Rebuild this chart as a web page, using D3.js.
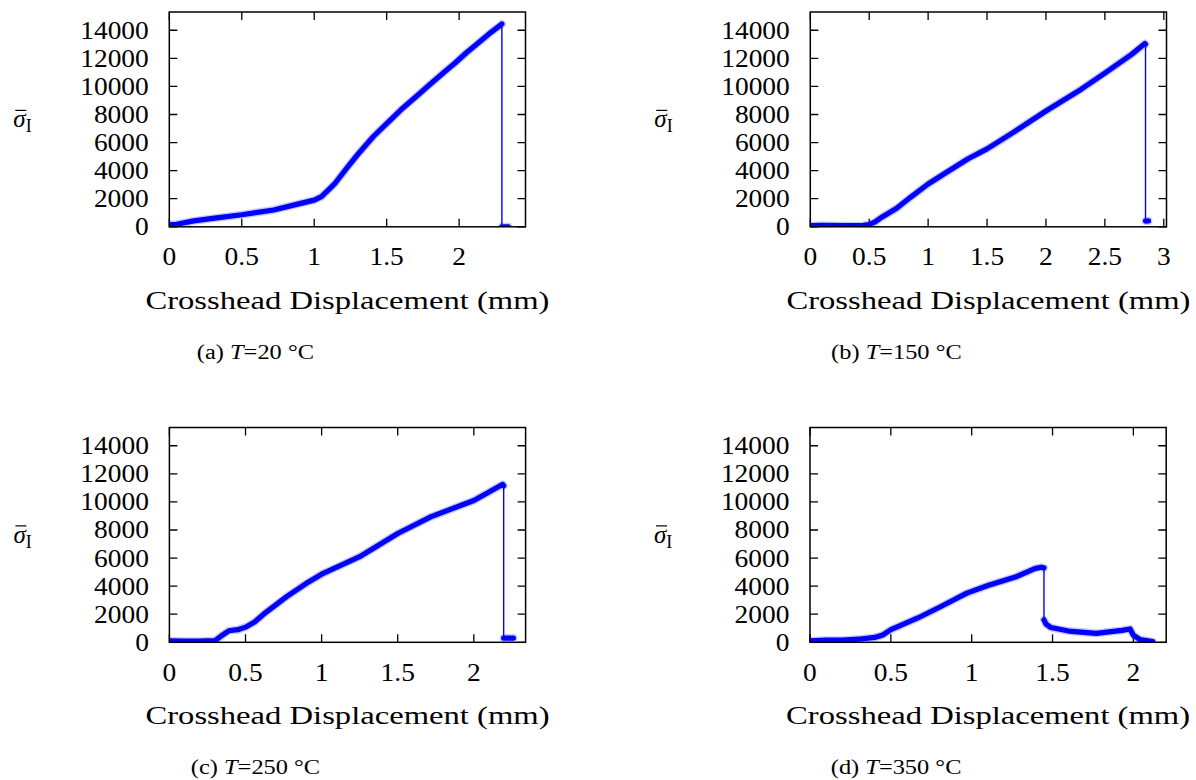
<!DOCTYPE html>
<html>
<head>
<meta charset="utf-8">
<script src="https://cdn.jsdelivr.net/npm/d3@7"></script>
<style>
  html, body { margin: 0; padding: 0; background: #fff; }
  svg { display: block; }
  text { font-family: "Liberation Serif", "DejaVu Serif", serif; fill: #000; }
</style>
</head>
<body>
<svg id="chart" width="1196" height="780"></svg>
<script>
// ---------------- data ----------------
const yTicks = [0, 2000, 4000, 6000, 8000, 10000, 12000, 14000];
const xTicksA = [0, 0.5, 1, 1.5, 2];
const xTicksB = [0, 0.5, 1, 1.5, 2, 2.5, 3];
const xTicksC = [0, 0.5, 1, 1.5, 2];
const xTicksD = [0, 0.5, 1, 1.5, 2];
const captionLetters = ["(a)", "(b)", "(c)", "(d)"];
const temperatures = ["20", "150", "250", "350"];
const xLabel = "Crosshead Displacement (mm)";

// T = 20 °C
const seriesA = [[0,150],[0.05,180],[0.17,420],[0.3,600],[0.5,860],[0.72,1200],[0.9,1650],[1.0,1900],[1.05,2150],
  [1.1,2650],[1.14,3050],[1.23,4250],[1.3,5150],[1.41,6450],[1.5,7350],[1.6,8350],[1.7,9250],[1.8,10150],
  [1.9,11050],[1.97,11650],[2.05,12400],[2.15,13250],[2.22,13850],[2.29,14400],[2.295,14450],[2.295,0],[2.34,0]];
// T = 150 °C
const seriesB = [[0,80],[0.1,100],[0.3,80],[0.45,100],[0.5,160],[0.55,350],[0.61,700],[0.73,1300],[0.85,2100],
  [1.0,3050],[1.16,3900],[1.34,4850],[1.5,5550],[1.7,6600],[2.0,8250],[2.3,9800],[2.5,10950],[2.73,12300],
  [2.84,13050],[2.845,13000],[2.845,410],[2.87,420]];
// T = 250 °C
const seriesC = [[0,100],[0.1,80],[0.2,80],[0.3,120],[0.34,450],[0.39,820],[0.45,900],[0.5,1080],[0.56,1450],
  [0.63,2100],[0.77,3250],[0.9,4200],[1.0,4850],[1.25,6100],[1.5,7750],[1.72,8950],[2.0,10100],[2.1,10700],
  [2.19,11250],[2.196,11150],[2.196,300],[2.26,300]];
// T = 350 °C
const seriesD = [[0,100],[0.1,150],[0.2,150],[0.3,220],[0.4,350],[0.45,520],[0.5,900],[0.6,1400],[0.67,1750],
  [0.81,2550],[0.97,3500],[1.1,4050],[1.27,4650],[1.39,5250],[1.43,5350],[1.447,5300],[1.447,1600],[1.46,1300],
  [1.49,1050],[1.6,800],[1.77,640],[1.93,850],[1.98,950],[2.0,500],[2.04,200],[2.12,50]];

// ---------------- layout ----------------
const panels = [
  { series: seriesA, ticks: xTicksA, left: 169.3, top: 12,    xmax: 2.458 },
  { series: seriesB, ticks: xTicksB, left: 810.3, top: 12,    xmax: 3.023 },
  { series: seriesC, ticks: xTicksC, left: 169.4, top: 427.5, xmax: 2.34 },
  { series: seriesD, ticks: xTicksD, left: 810.0, top: 427.5, xmax: 2.203 }
];
const W = 356.2, H = 214.8, YMAX = 15300;
const svg = d3.select("#chart");
svg.append("rect").attr("width", 1196).attr("height", 780).attr("fill", "#fff");

function stretch(sel, k) {
  sel.each(function () {
    const len = this.getComputedTextLength();
    if (len > 0) {
      this.setAttribute("textLength", (len * k).toFixed(2));
      this.setAttribute("lengthAdjust", "spacingAndGlyphs");
    }
  });
}

panels.forEach((p, i) => {
  const x = d3.scaleLinear().domain([0, p.xmax]).range([p.left, p.left + W]);
  const y = d3.scaleLinear().domain([0, YMAX]).range([p.top + H, p.top]);
  const g = svg.append("g");
  const bottom = p.top + H, cx = p.left + W / 2;

  // ticks (inward, mirrored)
  const tl = 8;
  g.selectAll(".yt").data(yTicks).join("path")
    .attr("d", d => `M${p.left},${y(d)}h${tl}M${p.left + W},${y(d)}h${-tl}`)
    .attr("stroke", "#000").attr("stroke-width", 1.3);
  g.selectAll(".xt").data(p.ticks).join("path")
    .attr("d", d => `M${x(d)},${bottom}v${-tl}M${x(d)},${p.top}v${tl}`)
    .attr("stroke", "#000").attr("stroke-width", 1.3);

  // data line
  const line = d3.line().x(d => x(d[0])).y(d => y(d[1]));
  // split into runs separated by vertical drops
  const runs = [];
  let cur = [p.series[0]];
  for (let k = 1; k < p.series.length; k++) {
    const a = p.series[k - 1], b = p.series[k];
    if (a[0] === b[0]) { if (cur.length > 1) runs.push(cur); cur = [b]; }
    else cur.push(b);
  }
  if (cur.length > 1) runs.push(cur);
  const clipId = "clip" + i;
  svg.append("clipPath").attr("id", clipId).append("rect")
    .attr("x", p.left).attr("y", p.top - 10).attr("width", W).attr("height", H + 10);
  const dg = g.append("g").attr("clip-path", `url(#${clipId})`);
  dg.selectAll(".halo").data(runs).join("path")
    .attr("d", line).attr("fill", "none").attr("stroke", "#4d4dff").attr("stroke-opacity", 0.3)
    .attr("stroke-width", 8).attr("stroke-linejoin", "round").attr("stroke-linecap", "round");
  dg.selectAll(".band").data(runs).join("path")
    .attr("d", line).attr("fill", "none").attr("stroke", "#0000ff")
    .attr("stroke-width", 5.2).attr("stroke-linejoin", "round").attr("stroke-linecap", "round");
  dg.append("path").datum(p.series).attr("d", line).attr("fill", "none")
    .attr("stroke", "#0000ff").attr("stroke-width", 1.4);

  // frame
  g.append("rect").attr("x", p.left).attr("y", p.top).attr("width", W).attr("height", H)
    .attr("fill", "none").attr("stroke", "#000").attr("stroke-width", 1.5);

  // y tick labels
  const ytl = g.selectAll(".ytl").data(yTicks).join("text")
    .attr("x", p.left - 20.5).attr("y", d => y(d) + 8.5)
    .attr("text-anchor", "end").attr("font-size", 24.5)
    .text(d => d);
  stretch(ytl, 1.12);
  // x tick labels
  const xtl = g.selectAll(".xtl").data(p.ticks).join("text")
    .attr("x", d => x(d)).attr("y", bottom + 38.5)
    .attr("text-anchor", "middle").attr("font-size", 24.5)
    .text(d => d);
  stretch(xtl, 1.12);
  // x axis label
  g.append("text").attr("x", cx).attr("y", bottom + 82).attr("text-anchor", "middle")
    .attr("font-size", 24.5).attr("textLength", 404).attr("lengthAdjust", "spacingAndGlyphs")
    .text(xLabel);
  // y axis label  sigma-bar subscript I
  const ly = p.top + H / 2 + 2;
  const lx = p.left - 156;
  const yl = g.append("text").attr("x", lx).attr("y", ly + 6).attr("font-size", 25);
  yl.append("tspan").attr("font-style", "italic").text("σ");
  yl.append("tspan").attr("font-size", 18).attr("dy", 5).text("I");
  g.append("line").attr("x1", lx + 2).attr("x2", lx + 13).attr("y1", ly - 11).attr("y2", ly - 11)
    .attr("stroke", "#000").attr("stroke-width", 1.2);
  // caption
  const cap = g.append("text").attr("x", cx - 92).attr("y", bottom + 132)
    .attr("text-anchor", "middle").attr("font-size", 20);
  cap.append("tspan").text(captionLetters[i] + " ");
  cap.append("tspan").attr("font-style", "italic").text("T");
  cap.append("tspan").text("=" + temperatures[i] + " °C");
  stretch(cap, 1.22);
});
</script>
</body>
</html>
